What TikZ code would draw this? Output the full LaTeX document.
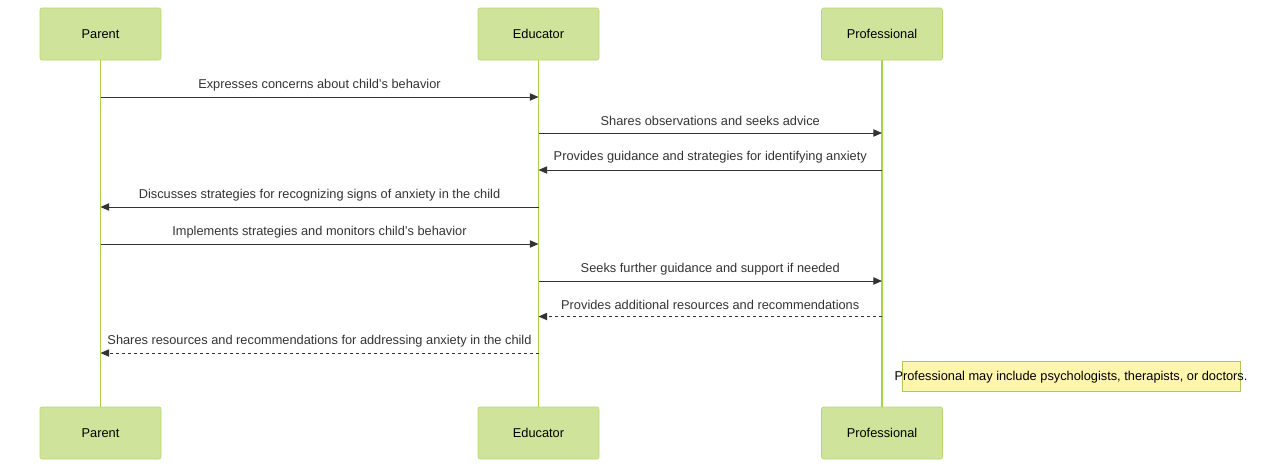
\documentclass[tikz,border=0pt]{standalone}
\usepackage{fontspec}
\setmainfont{Liberation Sans}
\usetikzlibrary{arrows.meta}
\definecolor{actorfill}{HTML}{CFE49A}
\definecolor{actorline}{HTML}{B3D870}
\definecolor{lifeline}{HTML}{A8D44A}
\definecolor{notefill}{HTML}{FFF5AD}
\definecolor{noteline}{HTML}{A8C85A}
\definecolor{msgtext}{HTML}{333333}
\tikzset{
  actor/.style={draw=actorline, fill=actorfill, rounded corners=1.5pt, minimum width=90.75pt, minimum height=39pt, text=black, text depth=0pt, font=\fontsize{9.6}{11}\selectfont},
  life/.style={draw=lifeline, line width=1pt},
  msg/.style={draw=msgtext, line width=0.75pt, -{Triangle[length=6.5pt, width=5.5pt]}},
  reply/.style={msg, dash pattern=on 2.25pt off 2.25pt},
  lbl/.style={midway, yshift=9pt, text=msgtext, inner sep=0pt, font=\fontsize{9.6}{11}\selectfont},
  notebox/.style={draw=noteline, fill=notefill, line width=0.75pt, minimum width=253.5pt, minimum height=22.5pt, inner sep=0pt},
}
\begin{document}
\begin{tikzpicture}[x=0.75pt, y=-0.75pt]
    \useasboundingbox (0,0) rectangle (1280,469);
    \node[actor] at (100.5,34) (parent) {Parent};
    \node[actor] at (538.5,34) (educator) {Educator};
    \node[actor] at (882,34) (professional) {Professional};
    \node[actor] at (100.5,433) (parentB) {Parent};
    \node[actor] at (538.5,433) (educatorB) {Educator};
    \node[actor] at (882,433) (professionalB) {Professional};
    \draw[life] (parent) -- (parentB);
    \draw[life] (educator) -- (educatorB);
    \draw[life] (professional) -- (professionalB);
    \foreach \n/\y in {1/97, 2/133, 3/170, 4/207, 5/244, 6/281, 7/316.5, 8/353}
    {
      \coordinate (p\n) at (100.5,\y);
      \coordinate (e\n) at (538.5,\y);
      \coordinate (f\n) at (882,\y);
    }
    \draw[msg] (p1) -- node[lbl]{Expresses concerns about child's behavior} (e1);
    \draw[msg] (e2) -- node[lbl]{Shares observations and seeks advice} (f2);
    \draw[msg] (f3) -- node[lbl, yshift=0.75pt]{Provides guidance and strategies for identifying anxiety} (e3);
    \draw[msg] (e4) -- node[lbl]{Discusses strategies for recognizing signs of anxiety in the child} (p4);
    \draw[msg] (p5) -- node[lbl]{Implements strategies and monitors child's behavior} (e5);
    \draw[msg] (e6) -- node[lbl]{Seeks further guidance and support if needed} (f6);
    \draw[reply] (f7) -- node[lbl]{Provides additional resources and recommendations} (e7);
    \draw[reply] (e8) -- node[lbl]{Shares resources and recommendations for addressing anxiety in the child} (p8);
    \node[notebox] at (1071,376) (note) {};
    \node[text=black, inner sep=0pt, text depth=0pt, font=\fontsize{9.6}{11}\selectfont] at (note.center) (notetext) {Professional may include psychologists, therapists, or doctors.};
\end{tikzpicture}
\end{document}
